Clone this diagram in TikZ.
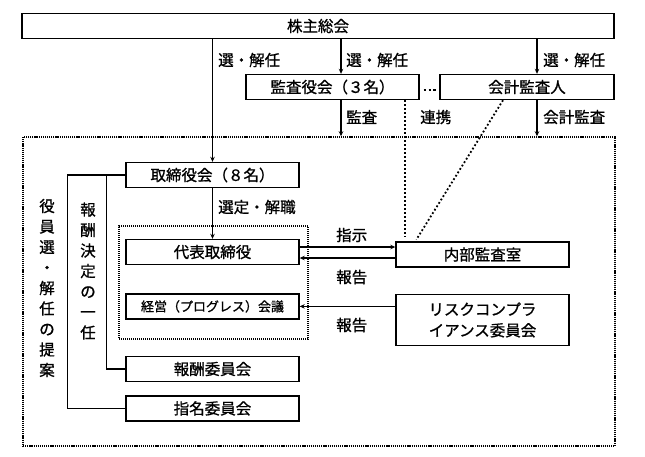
\documentclass[tikz,border=0pt]{standalone}
\usepackage{fontspec}
\setmainfont{Noto Sans CJK JP}[FakeBold=1]
\usetikzlibrary{arrows.meta,positioning,fit}
\tikzset{
    orgbox/.style={rectangle, draw, line width=1.4pt,
        minimum width=173pt, minimum height=25pt, inner sep=0pt,
        align=center, font=\fontsize{15.5}{21}\selectfont},
    orgarrow/.style={-{Stealth[length=5pt,width=4.5pt]}, line width=1.2pt},
    orgline/.style={line width=1.2pt},
    orgdots/.style={line width=1.8pt, dash pattern=on 1.8pt off 2.2pt},
    orglabel/.style={font=\fontsize{15.5}{18}\selectfont, anchor=west, inner sep=0pt},
    vlabel/.style={font=\fontsize{15.5}{20.5}\selectfont, align=center, inner sep=0pt},
    outerframe/.style={draw, line width=1.5pt, dash pattern=on 1.2pt off 0.9pt, inner sep=0pt},
}

\begin{document}
\begin{tikzpicture}[x=1pt, y=-1pt]

    \useasboundingbox (0,0) rectangle (645,456);

    % --- shareholders / auditors ---
    \node[orgbox, minimum width=592pt] (agm) at (318,26) {株主総会};
    \node[orgbox] (kansa) at (332.5,87) {監査役会（３名）};
    \node[orgbox, minimum width=174pt] (kaikei) at (527,87) {会計監査人};

    % --- company frame ---
    \node[outerframe, fit={(23,137) (615,446)}] (company) {};

    % --- board and executives ---
    \node[orgbox] (board) at (212.5,175) {取締役会（８名）};
    \node[orgbox] (rep) at (212.5,252) {代表取締役};
    \node[orgbox, below=28pt of rep, font=\fontsize{13}{15}\selectfont] (mgmt)
        {経営（プログレス）会議};
    \node[outerframe, line width=1.3pt, dash pattern=on 1pt off 1pt,
          fit={(119,226) (308,339)}] (execs) {};

    % --- committees ---
    \node[orgbox] (remun) at (212.5,369) {報酬委員会};
    \node[orgbox, below=13pt of remun] (nomin) {指名委員会};

    \node[orgbox] (iad) at (482.5,254.5) {内部監査室};
    \node[orgbox, minimum height=51pt, below=26pt of iad] (risk)
        {リスクコンプラ\\イアンス委員会};

    % --- arrows from the general meeting ---
    \coordinate (kansaIn) at ([xshift=8.5pt]kansa.north);
    \coordinate (kaikeiIn) at ([xshift=10pt]kaikei.north);
    \draw[orgarrow] (agm.south -| board.north) -- (board.north);
    \draw[orgarrow] (agm.south -| kansaIn) -- (kansaIn);
    \draw[orgarrow] (agm.south -| kaikeiIn) -- (kaikeiIn);

    \node[orglabel] (elect1) at (218,60) {選・解任};
    \node[orglabel] (elect2) at (346,60) {選・解任};
    \node[orglabel] (elect3) at (543,60) {選・解任};

    % --- audit arrows ---
    \coordinate (kansaOut) at ([xshift=8.5pt]kansa.south);
    \coordinate (kaikeiOut) at ([xshift=10pt]kaikei.south);
    \draw[orgarrow] (kansaOut) -- (kansaOut |- company.north);
    \draw[orgarrow] (kaikeiOut) -- (kaikeiOut |- company.north);
    \node[orglabel] (audit) at (346,117) {監査};
    \node[orglabel] (link) at (420,117) {連携};
    \node[orglabel] (acctaudit) at (543,117) {会計監査};

    % --- cooperation (dotted) ---
    \coordinate (iadTop) at ([xshift=10pt]iad.north west);
    \coordinate (iadTop2) at ([xshift=20pt]iad.north west);
    \draw[orgdots, line width=2.2pt, dash pattern=on 2.2pt off 2.6pt,
          shorten <=4pt, shorten >=3pt]
        ([yshift=-3pt]kansa.east) -- ([yshift=-3pt]kansa.east -| kaikei.west);
    \draw[orgdots, shorten >=4pt] (iadTop |- kansa.south) -- (iadTop);
    \draw[orgdots, shorten >=2pt] ([xshift=-24pt]kaikei.south) -- (iadTop2);

    % --- board to representative ---
    \draw[orgarrow] (board) -- (rep);
    \node[orglabel] (appoint) at (218,207) {選定・解職};

    % --- internal audit / risk ---
    \draw[orgarrow] ([yshift=5pt]rep.east) -- ([yshift=5pt]rep.east -| iad.west);
    \draw[orgarrow] ([yshift=-6pt]rep.east -| iad.west) -- ([yshift=-6pt]rep.east);
    \draw[orgarrow] (mgmt.east -| risk.west) -- (mgmt.east);
    \node[orglabel] (instruct) at (336,235) {指示};
    \node[orglabel] (report1) at (336,277) {報告};
    \node[orglabel] (report2) at (336,325) {報告};

    % --- proposals / delegation ---
    \draw[orgline] (board.west) -- ++(-58,0) |- (nomin.west);
    \draw[orgline] (board.west) -- ++(-19,0) |- (remun.west);
    \node[vlabel] (propose) at (47,288) {役\\員\\選\\・\\解\\任\\の\\提\\案};
    \node[vlabel] (delegate) at (88,271) {報\\酬\\決\\定\\の\\一\\任};

\end{tikzpicture}
\end{document}
